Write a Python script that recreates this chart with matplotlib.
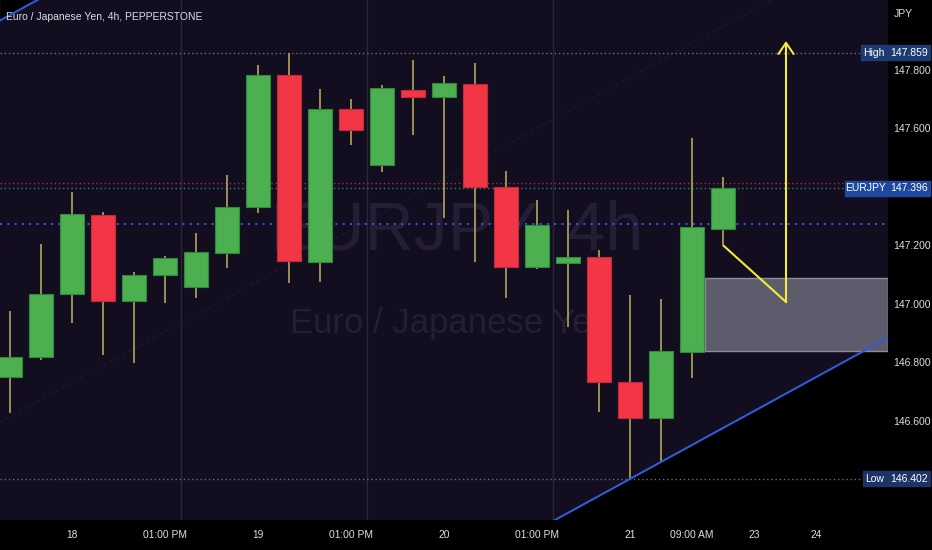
import matplotlib
matplotlib.use('Agg')
import matplotlib.pyplot as plt
import matplotlib.transforms as mtransforms
from matplotlib.patches import Rectangle
import numpy as np

# 4h EURJPY candles
opens = [146.750, 146.819, 147.034, 147.304, 147.010, 147.099, 147.058, 147.174,
         147.332, 147.783, 147.144, 147.667, 147.475, 147.732, 147.708, 147.752,
         147.400, 147.127, 147.140, 147.161, 146.733, 146.610, 146.836, 147.256]
closes = [146.819, 147.034, 147.308, 147.010, 147.099, 147.157, 147.178, 147.332,
          147.783, 147.147, 147.667, 147.595, 147.738, 147.708, 147.756, 147.400,
          147.127, 147.270, 147.161, 146.733, 146.610, 146.839, 147.263, 147.396]
highs = [146.976, 147.205, 147.383, 147.314, 147.109, 147.164, 147.243, 147.441,
         147.817, 147.859, 147.735, 147.701, 147.749, 147.834, 147.779, 147.824,
         147.455, 147.356, 147.321, 147.185, 147.031, 147.017, 147.568, 147.434]
lows = [146.627, 146.809, 146.935, 146.826, 146.798, 147.003, 147.021, 147.123,
        147.311, 147.072, 147.075, 147.544, 147.451, 147.578, 147.294, 147.144,
        147.021, 147.120, 146.921, 146.631, 146.402, 146.460, 146.747, 147.198]

time_ticks = [2, 5, 8, 11, 14, 17, 20, 22, 24, 26]
time_labels = ['18', '01:00 PM', '19', '01:00 PM', '20', '01:00 PM', '21', '09:00 AM', '23', '24']
price_ticks = [146.6, 146.8, 147.0, 147.2, 147.6, 147.8]
session_breaks = [5.5, 11.5, 17.5]

high_price = 147.859
low_price = 146.402
last_price = 147.396
prev_price = 147.414
blue_level = 147.274
zone_low, zone_high = 146.839, 147.089
zone_start = 22.42
path_x = [23.03, 25.03]
path_y = [147.198, 147.007]
target_y = 147.899
channel_width = 2.746

plt.rcParams['font.family'] = ['Liberation Sans', 'DejaVu Sans']

BG = '#120e20'
GREEN, RED = '#4caf50', '#f23645'
WICK = '#b3a65f'
YELLOW = '#f5e93a'
BLUE = '#2f5bd6'
TXT = '#dcdde3'
WATER = '#231e35'

fig = plt.figure(figsize=(9.32, 5.5), dpi=100, facecolor='black')
ax = fig.add_axes([0, 30 / 550, 888 / 932, 520 / 550])
ax.set_facecolor(BG)
for s in ax.spines.values():
    s.set_visible(False)

xmin, xmax = -0.323, 28.32
ymin, ymax = 146.2615, 148.0393
ax.set_xlim(xmin, xmax)
ax.set_ylim(ymin, ymax)

# channel from the two lows of the 21st
slope = lows[21] - lows[20]
xs = np.linspace(xmin, xmax, 200)
bottom_line = lows[20] + slope * (xs - 20)
top_line = bottom_line + channel_width
mid_line = bottom_line + channel_width / 2
ax.fill_between(xs, bottom_line, ymin - 1, color='black', zorder=0.5, lw=0)
ax.fill_between(xs, top_line, ymax + 1, color='black', zorder=0.5, lw=0)
ax.plot(xs, mid_line, color='#1b172c', lw=1, ls=(0, (3, 2)), zorder=0.6)

# watermark
ax.text(14.4, 147.185, 'EURJPY, 4h', color=WATER, fontsize=49,
        ha='center', va='baseline', zorder=0.7)
ax.text(14.2, 146.901, 'Euro / Japanese Yen', color=WATER, fontsize=25,
        ha='center', va='baseline', zorder=0.7)

for b in session_breaks:
    ax.axvline(b, color='#2b2739', lw=1, zorder=0.8)

# price lines
ax.axhline(high_price, color='#6f6c7c', lw=1, ls=(0, (1, 2)), zorder=1)
ax.axhline(low_price, color='#6f6c7c', lw=1, ls=(0, (1, 2)), zorder=1)
ax.axhline(prev_price, color='#9a3050', lw=1, ls=(0, (1, 2)), zorder=1)
ax.axhline(last_price, color='#3f7f6c', lw=1, ls=(0, (1, 2)), zorder=1)
ax.axhline(blue_level, color='#3356d8', lw=1.5, ls=(0, (1, 2.5)), zorder=1)

# candles
idx = np.arange(len(opens))
o = np.array(opens)
c = np.array(closes)
colors = [GREEN if cc >= oo else RED for oo, cc in zip(o, c)]
edges = ['#2f8a3a' if cc >= oo else '#c42a3a' for oo, cc in zip(o, c)]
ax.vlines(idx, lows, highs, color=WICK, lw=1.2, zorder=2)
ax.bar(idx, np.abs(c - o), bottom=np.minimum(o, c), width=0.77, color=colors,
       edgecolor=edges, lw=0.8, zorder=3)

# demand zone
ax.add_patch(Rectangle((zone_start, zone_low), xmax - zone_start, zone_high - zone_low,
                       facecolor='#5d5c6c', edgecolor='#8d8c99', lw=1, zorder=2.5))

ax.plot(xs, bottom_line, color=BLUE, lw=1.5, zorder=4)
ax.plot(xs, top_line, color=BLUE, lw=1.5, zorder=4)

# projected move
ax.plot(path_x, path_y, color=YELLOW, lw=1.5, zorder=5)
ax.annotate('', xy=(path_x[1], target_y), xytext=(path_x[1], path_y[1]),
            arrowprops=dict(arrowstyle='->,head_length=0.8,head_width=0.55',
                            color=YELLOW, lw=1.5, shrinkA=0, shrinkB=0), zorder=5)

# axes
ax.set_xticks(time_ticks)
ax.set_xticklabels(time_labels)
ax.yaxis.tick_right()
ax.set_yticks(price_ticks)
ax.set_yticklabels([f'{p:.3f}' for p in price_ticks])
ax.tick_params(axis='x', length=0, pad=7, labelsize=7.4, labelcolor=TXT)
ax.tick_params(axis='y', length=0, pad=4, labelsize=7.5, labelcolor=TXT)

fig.text(6 / 932, 1 - 17 / 550, 'Euro / Japanese Yen, 4h, PEPPERSTONE', color=TXT,
         fontsize=7.5, va='center', ha='left')
fig.text(894 / 932, 1 - 14 / 550, 'JPY', color=TXT, fontsize=7.5, va='center', ha='left')

trans = mtransforms.blended_transform_factory(fig.transFigure, ax.transData)
h = 15 / 292.5


def price_tag(price, label, label_left, box_color):
    ax.add_patch(Rectangle((888 / 932, price - h / 2), 42 / 932, h, transform=trans,
                           color=box_color, clip_on=False, zorder=6))
    ax.text(909 / 932, price, f'{price:.3f}', transform=trans, color='white',
            fontsize=7.5, ha='center', va='center', clip_on=False, zorder=7)
    ax.add_patch(Rectangle((label_left / 932, price - h / 2), (887 - label_left) / 932, h,
                           transform=trans, color=box_color, clip_on=False, zorder=6))
    ax.text((label_left + 887) / 2 / 932, price, label, transform=trans, color='white',
            fontsize=7.5, ha='center', va='center', clip_on=False, zorder=7)


price_tag(high_price, 'High', 861, '#1d3b73')
price_tag(last_price, 'EURJPY', 845, '#1f49a0')
price_tag(low_price, 'Low', 863, '#1c3566')

fig.savefig('out.png', dpi=100, facecolor='black')
